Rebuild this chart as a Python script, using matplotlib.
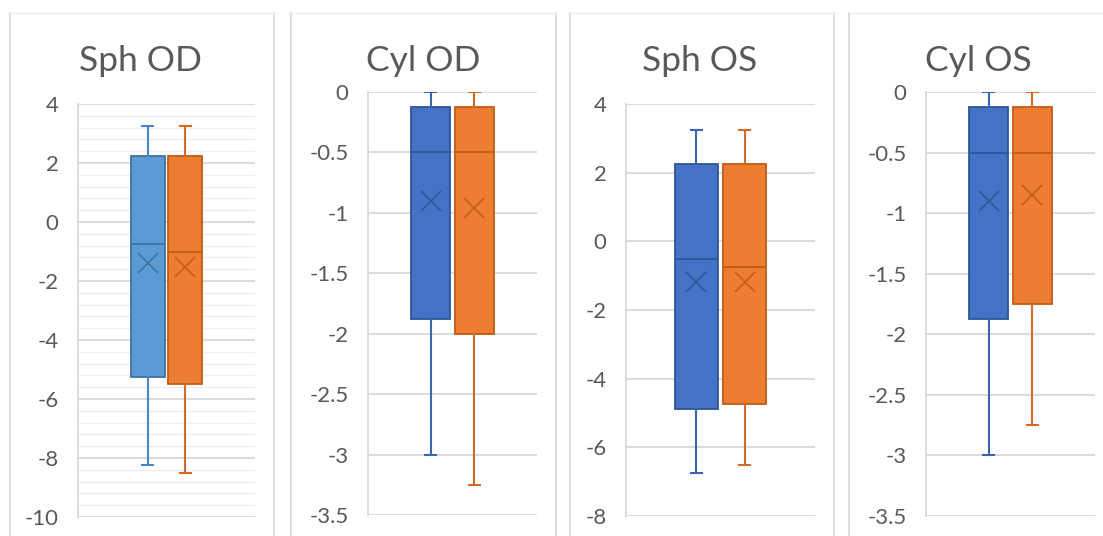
import matplotlib
matplotlib.use("Agg")
import matplotlib.pyplot as plt
from matplotlib.lines import Line2D
from matplotlib.ticker import MultipleLocator, FuncFormatter

plt.rcParams['font.family'] = ['Lato', 'DejaVu Sans']
plt.rcParams['axes.unicode_minus'] = False

titles = ['Sph OD', 'Cyl OD', 'Sph OS', 'Cyl OS']

# five number summary + mean per panel, [first box, second box]
whis_hi = [[3.25, 3.25], [0, 0], [3.25, 3.25], [0, 0]]
q3 = [[2.25, 2.25], [-0.125, -0.125], [2.25, 2.25], [-0.125, -0.125]]
median = [[-0.75, -1.0], [-0.5, -0.5], [-0.5, -0.75], [-0.5, -0.5]]
mean = [[-1.39, -1.54], [-0.9, -0.96], [-1.17, -1.17], [-0.9, -0.85]]
q1 = [[-5.25, -5.5], [-1.875, -2.0], [-4.875, -4.75], [-1.875, -1.75]]
whis_lo = [[-8.25, -8.5], [-3.0, -3.25], [-6.75, -6.5], [-3.0, -2.75]]

y_lims = [(-10, 4), (-3.5, 0), (-8, 4), (-3.5, 0)]
y_steps = [2, 0.5, 2, 0.5]

W, H = 1103, 536
fig = plt.figure(figsize=(W / 100, H / 100), dpi=100)

# plot area in pixels: left, top, right, bottom
areas = [(78, 104, 255, 517), (368, 92, 537, 515),
         (626, 104, 815, 516), (926, 92, 1095, 516)]
# chart borders (left, right) in pixels
borders = [(10, 274), (291, 556), (570, 834), (849, 1115)]
title_x = [140, 423, 700, 978]
half_gap = [0.106, 0.13, 0.127, 0.13]
box_w = [0.19, 0.23, 0.23, 0.235]

fill_cols = [['#5B9BD5', '#ED7D31'], ['#4472C4', '#ED7D31'],
             ['#4472C4', '#ED7D31'], ['#4472C4', '#ED7D31']]
edge_cols = [['#41719C', '#C55A11'], ['#2F5597', '#C55A11'],
             ['#2F5597', '#C55A11'], ['#2F5597', '#C55A11']]
whisk_cols = [['#4A86C5', '#D46A25'], ['#3B64B4', '#D46A25'],
              ['#3B64B4', '#D46A25'], ['#3B64B4', '#D46A25']]

grid_col = '#D9D9D9'
text_col = '#595959'

for bl, br in borders:
    for xp in (bl, br):
        fig.add_artist(Line2D([xp / W, xp / W], [0, 1 - 13 / H],
                              color=grid_col, lw=1.3))
    fig.add_artist(Line2D([bl / W, min(br, W) / W], [1 - 13 / H, 1 - 13 / H],
                          color='#EEEEEE', lw=1.0))

for i in range(4):
    l, t, r, b = areas[i]
    ax = fig.add_axes([l / W, 1 - b / H, (r - l) / W, (b - t) / H])
    pos = [0.5 - half_gap[i], 0.5 + half_gap[i]]
    for j in range(2):
        st = dict(med=median[i][j], q1=q1[i][j], q3=q3[i][j],
                  whislo=whis_lo[i][j], whishi=whis_hi[i][j],
                  mean=mean[i][j], fliers=[])
        ax.bxp([st], positions=[pos[j]], widths=box_w[i],
               capwidths=0.06, patch_artist=True, showmeans=True,
               boxprops=dict(facecolor=fill_cols[i][j],
                             edgecolor=edge_cols[i][j], lw=1.3),
               medianprops=dict(color=edge_cols[i][j], lw=1.3),
               whiskerprops=dict(color=whisk_cols[i][j], lw=1.5),
               capprops=dict(color=whisk_cols[i][j], lw=1.5),
               meanprops=dict(marker='x', markersize=15,
                              markeredgecolor=edge_cols[i][j],
                              markeredgewidth=1.1),
               zorder=3)
    ax.set_xlim(0, 1)
    ax.set_ylim(*y_lims[i])
    ax.yaxis.set_major_locator(MultipleLocator(y_steps[i]))
    ax.yaxis.set_major_formatter(FuncFormatter(lambda v, p: '%g' % v))
    if i == 0:
        ax.yaxis.set_minor_locator(MultipleLocator(0.4))
        ax.grid(True, which='minor', axis='y', color='#EFEFEF', lw=1.0)
    ax.grid(True, which='major', axis='y', color=grid_col, lw=1.3)
    ax.set_axisbelow(True)
    ax.set_xticks([])
    ax.tick_params(axis='y', which='both', length=0, pad=14,
                   labelsize=16, labelcolor=text_col)
    for s in ['top', 'right', 'bottom']:
        ax.spines[s].set_visible(False)
    ax.spines['left'].set_color(grid_col)
    ax.spines['left'].set_linewidth(1.3)
    ax.set_facecolor('none')

    fig.text(title_x[i] / W, 1 - 71 / H, titles[i], ha='center',
             va='baseline', fontsize=25.5, color=text_col)

fig.savefig('out.png', dpi=100)
